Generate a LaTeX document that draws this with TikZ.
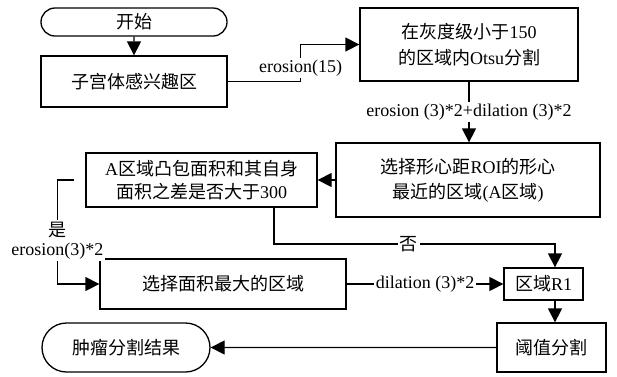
\documentclass[tikz,border=0pt]{standalone}
\usepackage{fontspec}
\setmainfont{Liberation Serif}
\newfontfamily\cjk{Noto Sans CJK SC}
\usetikzlibrary{arrows.meta,positioning,shapes.misc}
\tikzset{
  flow/.style={-{Triangle[length=14pt,width=14pt]},line width=1.3pt},
  box/.style={draw,line width=1.3pt,align=center,inner sep=0pt},
  term/.style={draw,line width=1.3pt,rounded rectangle,inner sep=0pt},
  lbl/.style={fill=white,inner sep=2pt,align=center}
}

\begin{document}
\begin{tikzpicture}[x=1pt,y=-1pt,font=\fontsize{18pt}{26pt}\selectfont]
\useasboundingbox (0,0) rectangle (617,376);
\node[term,minimum width=186pt,minimum height=28pt] (start) at (134,22) {\cjk 开始};
\node[box,minimum width=186pt,minimum height=51pt] (roi) at (134,81.5) {\cjk 子宫体感兴趣区};
\node[box,minimum width=218pt,minimum height=73pt] (otsu) at (469,44.5)
  {{\cjk 在灰度级小于}150\\{\cjk 的区域内}Otsu{\cjk 分割}};
\node[box,minimum width=264pt,minimum height=74pt,
  font=\fontsize{18pt}{25pt}\selectfont] (cent) at (468,180)
  {{\cjk 选择形心距}ROI{\cjk 的形心}\\{\cjk 最近的区域}(A{\cjk 区域})};
\node[box,minimum width=231pt,minimum height=54pt,
  font=\fontsize{18pt}{23pt}\selectfont] (areaa) at (201.5,180)
  {A{\cjk 区域凸包面积和其自身}\\{\cjk 面积之差是否大于}300};
\node[box,minimum width=246pt,minimum height=50pt] (maxr) at (223,284) {\cjk 选择面积最大的区域};
\node[box,minimum width=79pt,minimum height=32pt] (r1) at (543.5,284) {{\cjk 区域}R1};
\node[box,minimum width=109pt,minimum height=49pt] (thr) at (551.5,347.5) {\cjk 阈值分割};
\node[term,minimum width=168pt,minimum height=49pt] (res) at (126,347.5) {\cjk 肿瘤分割结果};

\draw[flow] (start) -- (roi);
\draw[flow] (roi.east) -- ++(73,0) |- node[lbl,pos=0.18] {erosion(15)} (otsu.west);
\draw[flow] (otsu.south) -- node[lbl] {erosion (3)*2+dilation (3)*2} (otsu.south |- cent.north);
\draw[flow] (cent) -- (areaa);
\coordinate (nobend) at (555,244);
\draw[flow] ([xshift=72.5pt]areaa.south) |- node[lbl,pos=0.74] {\cjk 否} (nobend)
  -- ([xshift=11.5pt]r1.north);
\draw[flow,shorten <=11pt] (areaa.west) -- ++(-28,0) |- node[lbl,pos=0.29,
  font=\fontsize{18pt}{19pt}\selectfont] {{\cjk 是}\\erosion(3)*2} (maxr.west);
\draw[flow] (maxr) -- node[lbl] {dilation (3)*2} (r1);
\draw[flow] ([xshift=11.5pt]r1.south) -- ([xshift=11.5pt]r1.south |- thr.north);
\draw[flow] (thr) -- (res);
\end{tikzpicture}
\end{document}
